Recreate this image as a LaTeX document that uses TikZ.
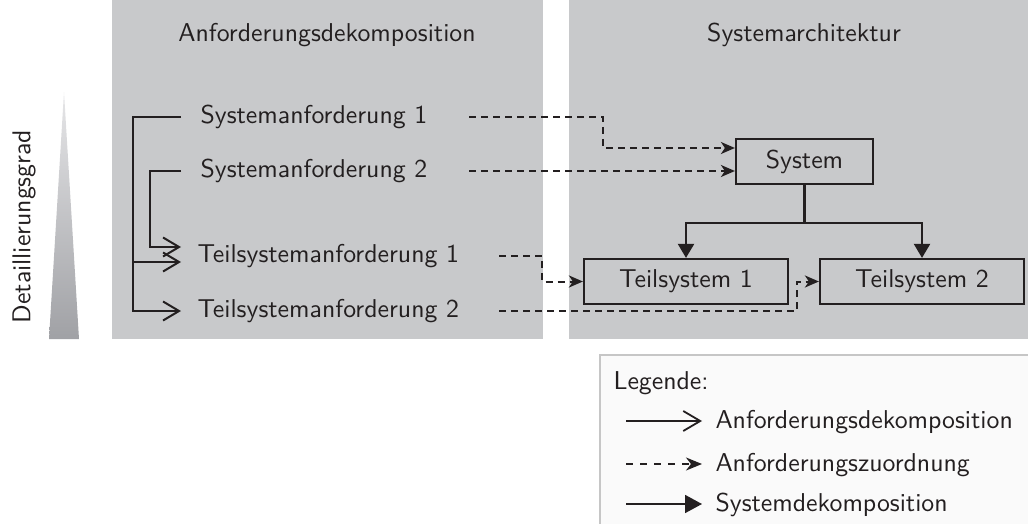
\documentclass[tikz,border=0pt]{standalone}
\usetikzlibrary{arrows.meta,calc}
\definecolor{panel}{HTML}{C8C9CB}
\definecolor{ink}{HTML}{231F20}
\definecolor{legfill}{HTML}{FAFAFA}
\definecolor{legborder}{HTML}{C6C6C6}
\definecolor{gradtop}{HTML}{E6E6E8}
\definecolor{gradbot}{HTML}{A0A1A5}
\tikzset{
  txt/.style={font=\sffamily\fontsize{10}{12}\selectfont, scale=2.58, text=ink, inner sep=0pt},
  box/.style={draw=ink, line width=2.2pt, inner sep=0pt, minimum height=45pt},
  dec/.style={draw=ink, line width=2pt, -{Straight Barb[length=16pt,width=19pt,line width=2pt]}},
  zuo/.style={draw=ink, line width=2pt, dash pattern=on 7pt off 5pt, -{Stealth[length=14pt,width=12pt,inset=4pt]}},
  sdec/.style={draw=ink, line width=2.2pt, -{Triangle[length=14pt,width=16pt]}},
  ldec/.style={draw=ink, line width=1.8pt, -{Straight Barb[length=17pt,width=20pt,line width=1.8pt]}},
  lzuo/.style={draw=ink, line width=1.8pt, dash pattern=on 6.5pt off 7.5pt, -{Stealth[length=16pt,width=13pt,inset=5pt]}},
  lsdec/.style={draw=ink, line width=1.8pt, -{Triangle[length=17pt,width=18pt]}},
}
\begin{document}
\begin{tikzpicture}[x=1pt,y=-1pt]
\useasboundingbox (0,0) rectangle (1028,524);
% panels
\fill[panel] (112,0) rectangle (543,339);
\fill[panel] (569,0) rectangle (1028,339);
% gradient triangle
\shade[top color=gradtop, bottom color=gradbot] (49,339) -- (64,92) -- (79,339) -- cycle;
\node[txt, rotate=90] (grad) at (24,226.5) {Detaillierungsgrad};
% titles
\node[txt] (t1) at (327,35) {Anforderungsdekomposition};
\node[txt] (t2) at (804,35) {Systemarchitektur};
% requirement texts
\node[txt, anchor=west] (sa1) at (200,117) {Systemanforderung 1};
\node[txt, anchor=west] (sa2) at (200,171) {Systemanforderung 2};
\node[txt, anchor=west] (tsa1) at (197,256) {Teilsystemanforderung 1};
\node[txt, anchor=west] (tsa2) at (197,311) {Teilsystemanforderung 2};
% system boxes
\node[box, minimum width=137pt] (sys) at (804.5,161.5) {};
\node[box, minimum width=204pt] (ts1) at (686,281.5) {};
\node[box, minimum width=204pt] (ts2) at (922,281.5) {};
\node[txt] (syst) at (sys.center) {System};
\node[txt] (ts1t) at (ts1.center) {Teilsystem 1};
\node[txt] (ts2t) at (ts2.center) {Teilsystem 2};
% requirement decomposition
\draw[dec] ([xshift=-19pt]sa1.west) -- (133,117) |- ([xshift=-16pt]tsa2.west);
\draw[dec] (133,262) -- ([xshift=-16pt,yshift=-6pt]tsa1.west);
\draw[dec] ([xshift=-19pt]sa2.west) -- (150,171) |- ([xshift=-16pt,yshift=9pt]tsa1.west);
% requirement assignment
\draw[zuo] (469,117) -- (603,117) |- ([yshift=13.5pt]sys.west);
\draw[zuo] (469,171) -- (sa2.east -| sys.west);
\draw[zuo] (499,256) -- (542,256) |- (ts1.west);
\draw[zuo] (499,311) -- (797,311) |- (ts2.west);
% system decomposition
\draw[sdec] (sys.south) -- ++(0,38) -| (ts1.north);
\draw[sdec] (sys.south) -- ++(0,38) -| (ts2.north);
% legend
\fill[legfill] (600,355) rectangle (1028,524);
\draw[legborder, line width=2pt] (1028,355) -- (600,355) -- (600,524);
\node[txt, anchor=west] (leg) at (613,383) {Legende:};
\coordinate (l1a) at (626,421); \coordinate (l1b) at (702,421);
\coordinate (l2a) at (626,464); \coordinate (l2b) at (702,464);
\coordinate (l3a) at (626,504); \coordinate (l3b) at (702,504);
\draw[ldec] (l1a) -- (l1b);
\draw[lzuo] (l2a) -- (l2b);
\draw[lsdec] (l3a) -- (l3b);
\node[txt, anchor=west] (lt1) at (715,422) {Anforderungsdekomposition};
\node[txt, anchor=west] (lt2) at (715,465) {Anforderungszuordnung};
\node[txt, anchor=west] (lt3) at (715,505) {Systemdekomposition};
\end{tikzpicture}
\end{document}
